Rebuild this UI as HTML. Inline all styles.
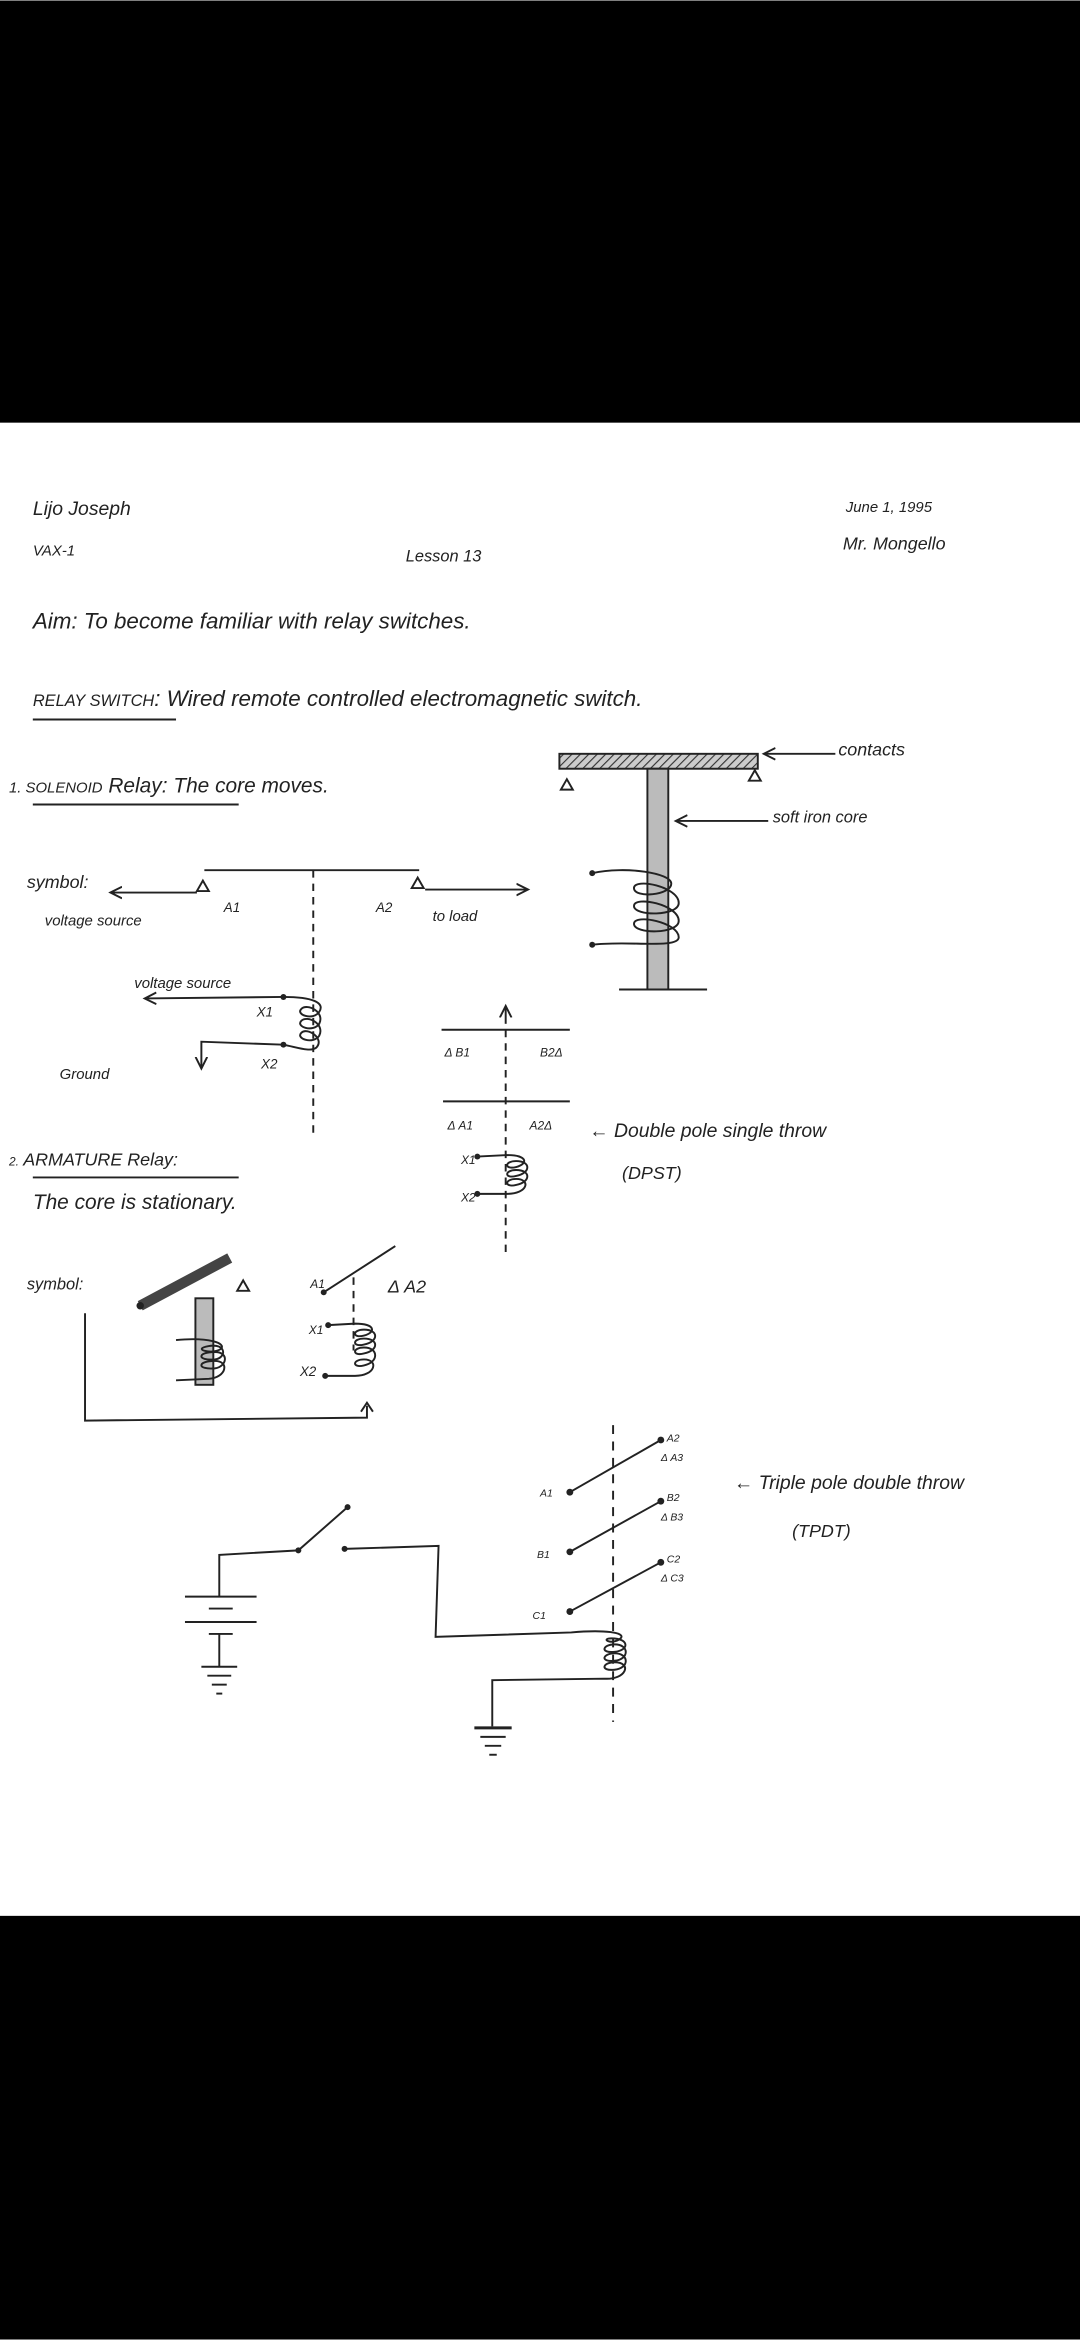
<!DOCTYPE html>
<html><head><meta charset="utf-8"><style>html,body{margin:0;padding:0;background:#fff}svg{display:block}</style></head>
<body>
<svg width="1080" height="2340" viewBox="0 0 724 1568" xmlns="http://www.w3.org/2000/svg" font-family="Liberation Sans, sans-serif" fill="#222">
<defs>
<pattern id="h" width="4" height="4" patternUnits="userSpaceOnUse" patternTransform="rotate(45)"><rect width="4" height="4" fill="#ccc"/><line x1="0" y1="0" x2="0" y2="4" stroke="#333" stroke-width="1.5"/></pattern>
<marker id="a" markerWidth="8" markerHeight="8" refX="6" refY="4" orient="auto"><path d="M0,1 L6,4 L0,7" fill="none" stroke="#222" stroke-width="1"/></marker>
</defs>
<rect x="0" y="0" width="724" height="283" fill="#000"/>
<rect x="0" y="1284" width="724" height="284" fill="#000"/>
<g font-style="italic">
<text x="22" y="345" font-size="13">Lijo Joseph</text>
<text x="22" y="372" font-size="10">VAX-1</text>
<text x="272" y="376" font-size="11">Lesson 13</text>
<text x="567" y="343" font-size="10">June 1, 1995</text>
<text x="565" y="368" font-size="12">Mr. Mongello</text>
<text x="22" y="421" font-size="15">Aim: To become familiar with relay switches.</text>
<text x="22" y="473" font-size="15"><tspan font-size="11">RELAY SWITCH</tspan>: Wired remote controlled electromagnetic switch.</text>
<text x="6" y="531" font-size="14"><tspan font-size="10">1. SOLENOID</tspan> Relay: The core moves.</text>
<text x="562" y="506" font-size="12">contacts</text>
<text x="518" y="551" font-size="11">soft iron core</text>
<text x="18" y="595" font-size="12">symbol:</text>
<text x="30" y="620" font-size="10">voltage source</text>
<text x="150" y="611" font-size="9">A1</text>
<text x="252" y="611" font-size="9">A2</text>
<text x="290" y="617" font-size="10">to load</text>
<text x="90" y="662" font-size="10">voltage source</text>
<text x="172" y="681" font-size="9">X1</text>
<text x="175" y="716" font-size="9">X2</text>
<text x="40" y="723" font-size="10">Ground</text>
<text x="298" y="708" font-size="8">Δ B1</text><text x="362" y="708" font-size="8">B2Δ</text>
<text x="300" y="757" font-size="8">Δ A1</text><text x="355" y="757" font-size="8">A2Δ</text>
<text x="309" y="780" font-size="8">X1</text><text x="309" y="805" font-size="8">X2</text>
<text x="395" y="762" font-size="13">← Double pole single throw</text>
<text x="417" y="790" font-size="12">(DPST)</text>
<text x="6" y="781" font-size="12"><tspan font-size="8">2.</tspan> ARMATURE Relay:</text>
<text x="22" y="810" font-size="14">The core is stationary.</text>
<text x="18" y="864" font-size="11">symbol:</text>
<text x="208" y="863" font-size="8">A1</text>
<text x="260" y="866" font-size="12">Δ A2</text>
<text x="207" y="894" font-size="8">X1</text><text x="201" y="922" font-size="9">X2</text>
<text x="362" y="1003" font-size="7">A1</text><text x="360" y="1044" font-size="7">B1</text><text x="357" y="1085" font-size="7">C1</text>
<text x="447" y="966" font-size="7">A2</text><text x="443" y="979" font-size="7">Δ A3</text>
<text x="447" y="1006" font-size="7">B2</text><text x="443" y="1019" font-size="7">Δ B3</text>
<text x="447" y="1047" font-size="7">C2</text><text x="443" y="1060" font-size="7">Δ C3</text>
<text x="492" y="998" font-size="13">← Triple pole double throw</text>
<text x="531" y="1030" font-size="12">(TPDT)</text>
</g>
<g fill="none" stroke="#222" stroke-width="1.3">
<line x1="22" y1="482" x2="118" y2="482"/>
<line x1="22" y1="539" x2="160" y2="539"/>
<line x1="22" y1="789" x2="160" y2="789"/>
<!-- solenoid drawing -->
<rect x="375" y="505" width="133" height="10" fill="url(#h)"/>
<rect x="434" y="515" width="14" height="148" fill="#bbb"/>
<line x1="415" y1="663" x2="474" y2="663"/>
<line x1="560" y1="505" x2="512" y2="505" marker-end="url(#a)"/>
<line x1="515" y1="550" x2="453" y2="550" marker-end="url(#a)"/>
<path d="M380,522 l-4,7 h8 z M506,516 l-4,7 h8 z"/>
<path d="M397,585 C420,580 450,585 450,592 C450,600 425,602 425,595 C425,588 455,594 455,605 C455,614 425,614 425,607 C425,600 455,606 455,617 C455,626 425,626 425,619 C425,612 455,618 455,628 C455,636 420,630 397,633"/>
<!-- solenoid symbol -->
<line x1="137" y1="583" x2="281" y2="583"/>
<line x1="210" y1="583" x2="210" y2="760" stroke-dasharray="5,4"/>
<path d="M136,590 l-4,7 h8 z M280,588 l-4,7 h8 z"/>
<line x1="132" y1="598" x2="74" y2="598" marker-end="url(#a)"/>
<line x1="285" y1="596" x2="354" y2="596" marker-end="url(#a)"/>
<line x1="190" y1="668" x2="97" y2="669" marker-end="url(#a)"/>
<path d="M190,668 C210,668 218,672 214,678 C210,684 198,680 202,676 C206,672 218,678 214,686 C210,692 198,688 202,684 C206,680 218,686 214,694 C210,700 198,696 202,692 C206,688 218,696 212,702 C208,705 200,702 190,700"/>
<path d="M190,700 L135,698 L135,716" marker-end="url(#a)"/>
<!-- DPST -->
<line x1="339" y1="686" x2="339" y2="674" marker-end="url(#a)"/>
<line x1="296" y1="690" x2="382" y2="690"/>
<line x1="297" y1="738" x2="382" y2="738"/>
<line x1="339" y1="690" x2="339" y2="840" stroke-dasharray="5,4"/>
<path d="M320,775 L340,774 C354,774 354,780 346,782 C338,784 338,778 346,778 C356,778 356,786 346,788 C338,790 338,784 346,784 C356,784 356,792 346,794 C338,796 338,790 346,790 C356,790 354,800 340,800 L320,800"/>
<!-- armature -->
<line x1="94" y1="875" x2="154" y2="843" stroke-width="7" stroke="#444"/>
<path d="M163,858 l-4,7 h8 z"/>
<rect x="131" y="870" width="12" height="58" fill="#bbb"/>
<path d="M118,898 C140,896 152,900 148,904 C142,908 128,904 140,902 C152,900 152,910 144,911 C132,912 132,906 144,906 C154,906 152,916 144,917 C132,918 132,912 144,912 C154,912 152,923 140,924 L118,925"/>
<line x1="217" y1="866" x2="265" y2="835"/>
<line x1="237" y1="856" x2="237" y2="905" stroke-dasharray="5,4"/>
<path d="M220,888 L238,887 C252,887 252,893 244,895 C236,897 236,891 244,891 C254,891 254,899 244,901 C236,903 236,897 244,897 C254,897 254,905 244,907 C236,909 236,903 244,903 C254,903 254,913 244,915 C236,917 236,911 244,911 C254,911 252,922 238,922 L218,922"/>
<path d="M57,880 L57,952 L246,950 L246,942"/>
<path d="M242,946 L246,940 L250,946"/>
<!-- TPDT -->
<line x1="382" y1="1000" x2="443" y2="965"/>
<line x1="382" y1="1040" x2="443" y2="1006"/>
<line x1="382" y1="1080" x2="443" y2="1047"/>
<line x1="411" y1="955" x2="411" y2="1154" stroke-dasharray="6,5"/>
<path d="M147,1070 L147,1042 L200,1039 L233,1010"/>
<path d="M231,1038 L294,1036 L292,1097 L383,1094 C405,1092 420,1094 416,1098 C410,1103 402,1098 410,1098 C422,1098 422,1106 412,1107 C402,1108 404,1102 412,1102 C422,1102 422,1112 412,1113 C402,1114 404,1108 412,1108 C422,1108 422,1118 412,1119 C402,1120 404,1114 412,1114 C424,1114 420,1126 405,1125 L330,1126 L330,1157"/>
<line x1="124" y1="1070" x2="172" y2="1070"/>
<line x1="140" y1="1078" x2="156" y2="1078"/>
<line x1="124" y1="1087" x2="172" y2="1087"/>
<line x1="140" y1="1095" x2="156" y2="1095"/>
<line x1="147" y1="1095" x2="147" y2="1117"/>
<line x1="135" y1="1117" x2="159" y2="1117"/>
<line x1="139" y1="1123" x2="155" y2="1123"/>
<line x1="142" y1="1129" x2="152" y2="1129"/>
<line x1="145" y1="1135" x2="149" y2="1135"/>
<line x1="318" y1="1158" x2="343" y2="1158" stroke-width="2"/>
<line x1="322" y1="1164" x2="339" y2="1164"/>
<line x1="325" y1="1170" x2="336" y2="1170"/>
<line x1="328" y1="1176" x2="333" y2="1176"/>
</g>
<g fill="#222">
<circle cx="382" cy="1000" r="2.3"/><circle cx="443" cy="965" r="2.3"/>
<circle cx="382" cy="1040" r="2.3"/><circle cx="443" cy="1006" r="2.3"/>
<circle cx="382" cy="1080" r="2.3"/><circle cx="443" cy="1047" r="2.3"/>
<circle cx="200" cy="1039" r="2"/><circle cx="233" cy="1010" r="2"/><circle cx="231" cy="1038" r="2"/>
<circle cx="397" cy="585" r="2"/><circle cx="397" cy="633" r="2"/>
<circle cx="320" cy="775" r="2"/><circle cx="320" cy="800" r="2"/>
<circle cx="94" cy="875" r="2.5"/><circle cx="217" cy="866" r="2"/>
<circle cx="220" cy="888" r="2"/><circle cx="218" cy="922" r="2"/>
<circle cx="190" cy="668" r="2"/><circle cx="190" cy="700" r="2"/>
</g>
</svg>
</body></html>
